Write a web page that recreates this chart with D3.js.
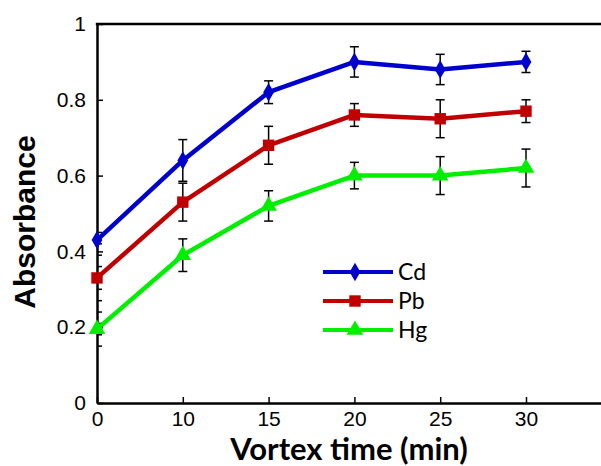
<!DOCTYPE html>
<html>
<head>
<meta charset="utf-8">
<script src="https://cdn.jsdelivr.net/npm/d3@7"></script>
<style>
  body { margin: 0; background: #fff; }
  svg { display: block; }
  .tick text { font-family: "Liberation Sans", Arial, sans-serif; font-size: 21px; fill: #000; }
</style>
</head>
<body>
<div id="chart"></div>
<script>
// Data
const times = ["0", "10", "15", "20", "25", "30"];
const cdValues = [0.43, 0.64, 0.82, 0.90, 0.88, 0.90];
const cdErrors = [0, 0.055, 0.03, 0.04, 0.04, 0.028];
const pbValues = [0.33, 0.53, 0.68, 0.76, 0.75, 0.77];
const pbErrors = [0, 0.05, 0.05, 0.03, 0.05, 0.03];
const hgValues = [0.195, 0.39, 0.52, 0.60, 0.60, 0.62];
const hgErrors = [0, 0.043, 0.04, 0.035, 0.05, 0.05];
const yTicks = [0, 0.2, 0.4, 0.6, 0.8, 1];
const yMinorTicks = [0.15, 0.18, 0.21, 0.24, 0.27, 0.30, 0.33, 0.36, 0.39, 0.42, 0.45];

const series = [
    { name: "Cd", values: cdValues, errors: cdErrors, color: "#0000cc", symbol: d3.symbolDiamond, size: 100 },
    { name: "Pb", values: pbValues, errors: pbErrors, color: "#c00000", symbol: d3.symbolSquare, size: 130 },
    { name: "Hg", values: hgValues, errors: hgErrors, color: "#00ee00", symbol: d3.symbolTriangle, size: 120 }
];

const width = 601, height = 466;
const plotLeft = 97, plotTop = 24, plotBottom = 403;

const svg = d3.select("#chart")
    .append("svg")
    .attr("width", width)
    .attr("height", height);

// x: evenly spaced categories, the frame continues past the right edge
const x = d3.scaleLinear().domain([0, 6]).range([plotLeft, plotLeft + 6 * 85.8]);
const y = d3.scaleLinear().domain([0, 1]).range([plotBottom, plotTop]);

// minor ticks on the y axis
svg.append("g")
    .selectAll("line")
    .data(yMinorTicks)
    .join("line")
    .attr("x1", plotLeft)
    .attr("x2", plotLeft + 5)
    .attr("y1", d => y(d))
    .attr("y2", d => y(d))
    .attr("stroke", "#000")
    .attr("stroke-width", 1.5);

// axes
svg.append("g")
    .attr("transform", "translate(0," + plotBottom + ")")
    .call(d3.axisBottom(x)
        .tickValues(d3.range(times.length))
        .tickFormat(i => times[i])
        .tickSizeInner(-6)
        .tickSizeOuter(0)
        .tickPadding(8));

svg.append("g")
    .attr("transform", "translate(" + plotLeft + ",0)")
    .call(d3.axisLeft(y)
        .tickValues(yTicks)
        .tickFormat(d3.format("~g"))
        .tickSizeInner(-6)
        .tickSizeOuter(0)
        .tickPadding(11));

svg.selectAll(".domain").attr("stroke-width", 2.5);
svg.selectAll(".tick line").attr("stroke-width", 1.5);

// top frame line
svg.append("line")
    .attr("x1", plotLeft - 1.2)
    .attr("x2", width + 10)
    .attr("y1", plotTop)
    .attr("y2", plotTop)
    .attr("stroke", "#000")
    .attr("stroke-width", 2.5);

// error bars
const capW = 4.5;
series.forEach(s => {
    const g = svg.append("g").attr("stroke", "#000").attr("stroke-width", 1.5);
    s.values.forEach((v, i) => {
        const e = s.errors[i];
        if (!e) return;
        const cx = x(i);
        g.append("line").attr("x1", cx).attr("x2", cx).attr("y1", y(v + e)).attr("y2", y(v - e));
        g.append("line").attr("x1", cx - capW).attr("x2", cx + capW).attr("y1", y(v + e)).attr("y2", y(v + e));
        g.append("line").attr("x1", cx - capW).attr("x2", cx + capW).attr("y1", y(v - e)).attr("y2", y(v - e));
    });
});

// lines and markers
const line = d3.line().x((d, i) => x(i)).y(d => y(d));

series.forEach(s => {
    svg.append("path")
        .datum(s.values)
        .attr("fill", "none")
        .attr("stroke", s.color)
        .attr("stroke-width", 4.5)
        .attr("stroke-linejoin", "round")
        .attr("d", line);

    svg.append("g")
        .selectAll("path")
        .data(s.values)
        .join("path")
        .attr("transform", (d, i) => "translate(" + x(i) + "," + y(d) + ")")
        .attr("d", d3.symbol().type(s.symbol).size(s.size))
        .attr("fill", s.color);
});

// legend
const legend = svg.append("g");
series.forEach((s, k) => {
    const ly = 272 + k * 29;
    legend.append("line")
        .attr("x1", 323).attr("x2", 393)
        .attr("y1", ly).attr("y2", ly)
        .attr("stroke", s.color)
        .attr("stroke-width", 4);
    legend.append("path")
        .attr("transform", "translate(355," + ly + ")")
        .attr("d", d3.symbol().type(s.symbol).size(s.size))
        .attr("fill", s.color);
    legend.append("text")
        .attr("x", 398)
        .attr("y", ly)
        .attr("dy", "0.36em")
        .style("font-family", "Lato, 'Open Sans', sans-serif")
        .style("font-size", "23px")
        .text(s.name);
});

// axis titles
svg.append("text")
    .attr("text-anchor", "middle")
    .attr("x", 349)
    .attr("y", 460)
    .style("font-family", "Lato, 'Open Sans', sans-serif")
    .style("font-weight", "bold")
    .style("font-size", "31px")
    .text("Vortex time (min)");

svg.append("text")
    .attr("text-anchor", "middle")
    .attr("transform", "translate(35,222) rotate(-90)")
    .style("font-family", "'Liberation Sans', Arial, sans-serif")
    .style("font-weight", "bold")
    .style("font-size", "30px")
    .text("Absorbance");
</script>
</body>
</html>
